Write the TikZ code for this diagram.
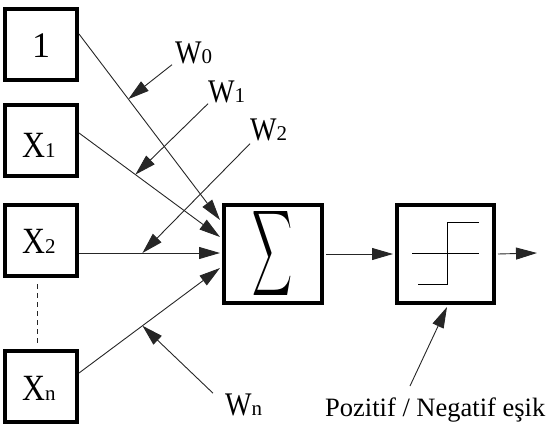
\documentclass[tikz,border=0pt]{standalone}
\usepackage{fontspec}
\setmainfont{Liberation Serif}
\usetikzlibrary{arrows.meta}
\newcommand{\wlbl}[4]{\scalebox{#3}[1]{\fontsize{#4}{#4}\selectfont #1}{\fontsize{21}{21}\selectfont #2}}
\begin{document}
\begin{tikzpicture}[x=1pt,y=-1pt,
  box/.style={draw, line width=4pt, minimum width=72pt, minimum height=71pt, inner sep=0pt},
  wire/.style={line width=0.9pt, draw=black!85},
  conn/.style={wire, -{Triangle[length=21pt,width=12pt]}},
  txt/.style={anchor=base west, inner sep=0pt}]
\useasboundingbox (0,0) rectangle (550,426);
% boxes
\node[box] (b1) at (41,44) {};
\node[box] (bx1) at (41,140.5) {};
\node[box] (bx2) at (41,240.5) {};
\node[box] (bxn) at (41,386) {};
\node[box, minimum width=98pt, minimum height=98pt] (sum) at (273,254) {};
\node[box, minimum width=97pt, minimum height=98pt] (act) at (445.5,254) {};
% box labels
\node[txt] (t1) at (32,57) {\fontsize{36}{36}\selectfont 1};
\node[txt] (tx1) at (22,157) {\wlbl{X}{1}{0.86}{37}};
\node[txt] (tx2) at (22,253) {\wlbl{X}{2}{0.86}{37}};
\node[txt] (txn) at (22,400) {\wlbl{X}{n}{0.86}{37}};
\node (sig) at (272.5,253.5) {\resizebox{40pt}{63pt}{$\displaystyle\sum$}};
% step function
\draw[line width=1pt] (412,253) -- (479,253);
\draw[line width=1pt] (479,222) -- (447,222) -- (447,284) -- (418,284);
% dashed link
\draw[wire, dash pattern=on 5pt off 4pt] ([xshift=-4pt,yshift=-6pt]bx2.south) -- ([xshift=-4pt,yshift=5pt]bxn.north);
% inputs
\draw[conn] ([yshift=10pt]b1.east) -- coordinate[pos=0.35] (p0) ([xshift=-2pt,yshift=34pt]sum.west);
\draw[conn] ([yshift=7.5pt]bx1.east) -- coordinate[pos=0.40] (p1) ([xshift=-2pt,yshift=17pt]sum.west);
\draw[conn] ([yshift=-12.5pt]bx2.east) -- coordinate[pos=0.45] (p2) ([xshift=-2pt,yshift=1pt]sum.west);
\draw[conn] ([yshift=13pt]bxn.east) -- coordinate[pos=0.45] (pn) ([xshift=-2pt,yshift=-14pt]sum.west);
% weights
\node[txt] (w0) at (175,63) {\wlbl{W}{0}{0.85}{33}};
\node[txt] (w1) at (208,102) {\wlbl{W}{1}{0.85}{33}};
\node[txt] (w2) at (250,140) {\wlbl{W}{2}{0.85}{33}};
\node[txt] (wn) at (225,415) {\wlbl{W}{n}{0.85}{33}};
\draw[conn] ([shift={(-3,1)}]w0.south west) -- (p0);
\draw[conn] ([shift={(0,1)}]w1.south west) -- (p1);
\draw[conn] ([shift={(0,3)}]w2.south west) -- (p2);
\draw[conn] ([shift={(-12,0)}]wn.north west) -- (pn);
% output chain
\coordinate (out) at (537,253);
\draw[conn] ([xshift=2pt]sum.east) -- ([xshift=-2pt]act.west);
\draw[conn] ([xshift=2pt]act.east) -- (out);
% threshold
\node[txt] (thr) at (325,416) {\fontsize{26.5}{26.5}\selectfont Pozitif / Negatif eşik};
\coordinate (th) at (410,386);
\draw[conn] (th) -- ([xshift=1.5pt,yshift=-2pt]act.south);
\end{tikzpicture}
\end{document}
